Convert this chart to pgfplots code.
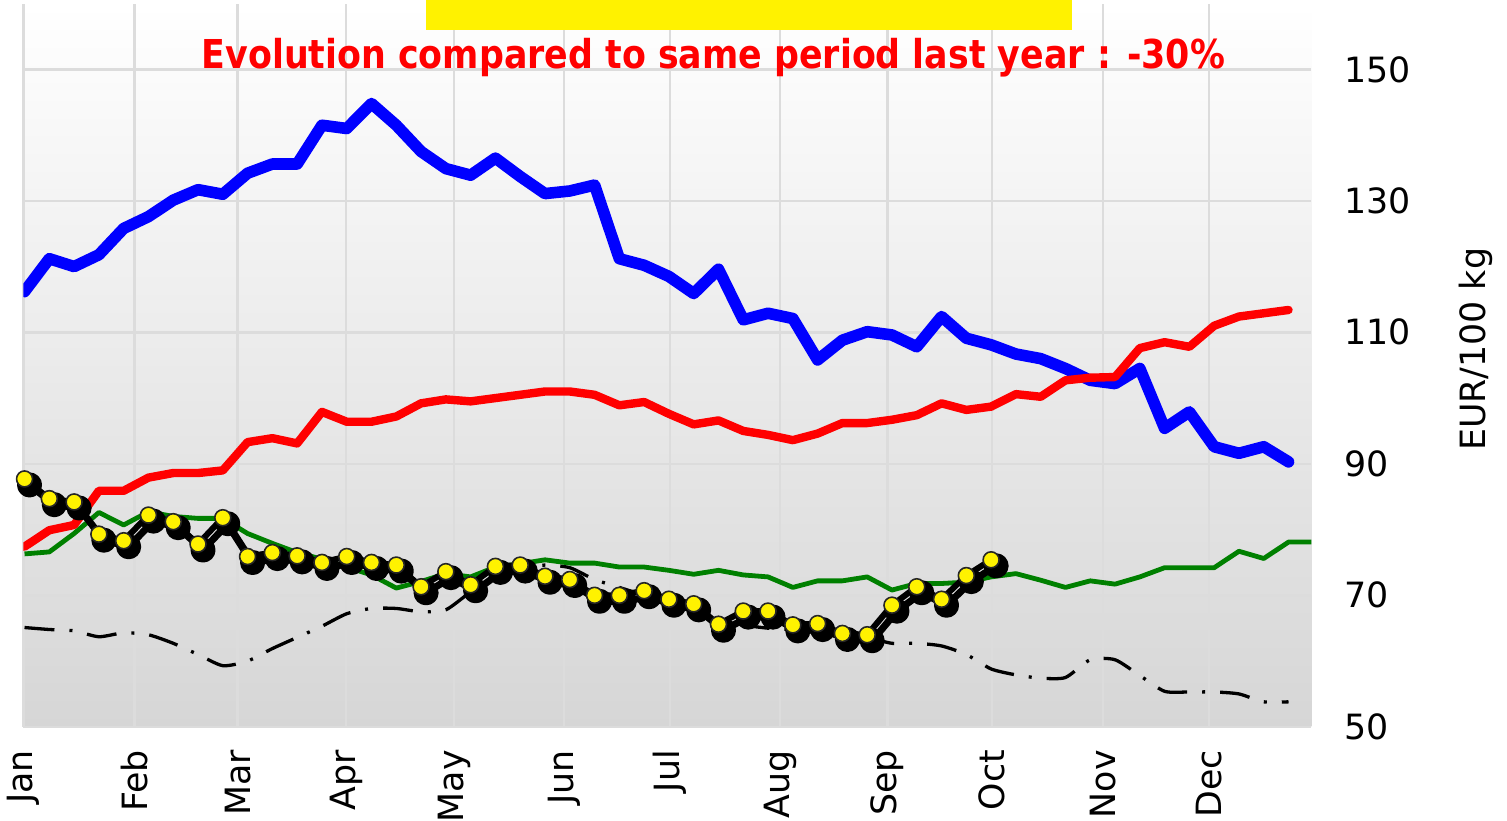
\documentclass[border=0pt]{standalone}
\usepackage{pgfplots}
\pgfplotsset{compat=1.18}
\usepackage{fontspec}
\setmainfont{DejaVu Sans}
\newfontfamily\titlefont{DejaVu Sans}[FakeStretch=0.875]
\definecolor{bgbot}{RGB}{214,214,214}
\definecolor{gridc}{RGB}{220,220,220}
\definecolor{dgreen}{RGB}{0,128,0}
\begin{document}
\begin{tikzpicture}
\begin{axis}[
  at={(0,0)}, anchor=south west,
  scale only axis, width=644pt, height=361.6pt,
  xmin=-0.05, xmax=51.92, ymin=50, ymax=160,
  axis line style={draw=none},
  axis background/.style={shade, top color=white, bottom color=bgbot},
  xtick={-0.05,4.43,8.60,12.97,17.33,21.77,26.05,30.49,34.81,39.04,43.52,47.80},
  xticklabels={Jan,Feb,Mar,Apr,May,Jun,Jul,Aug,Sep,Oct,Nov,Dec},
  ytick={50,70,90,110,130,150},
  grid=major, major grid style={gridc, line width=1.25pt},
  major tick length=0pt,
  yticklabel pos=right,
  tick label style={font=\fontsize{17.4}{20}\selectfont},
  /pgf/number format/assume math mode=true,
  xticklabel style={yshift=-11.5pt, rotate=90, anchor=east, inner sep=0pt},
  yticklabel style={anchor=west, inner sep=0pt, xshift=16.5pt},
  ylabel={EUR/100 kg},
  every axis y label/.style={at={(axis description cs:1.1351,0.522)}, rotate=90, anchor=base, font=\fontsize{17.4}{20}\selectfont},
]
% last year
\addplot[black, line width=1.65pt, dash pattern=on 15pt off 7.5pt on 1.5pt off 7.5pt, smooth, tension=0.4] coordinates {
(0,65.1)(1,64.8)(2,64.6)(3,63.7)(4,64.3)(5,64.0)(6,62.7)(7,61.0)(8,59.3)(9,60.0)
(10,61.9)(11,63.6)(12,65.3)(13,67.2)(14,68.0)(15,68.0)(16,67.5)(17,67.8)(18,70.5)(19,72.5)
(20,74.0)(21,74.6)(22,74.2)(23,72.4)(24,71.2)(25,70.0)(26,68.8)(27,67.8)(28,66.5)(29,65.5)
(30,65.0)(31,64.8)(32,64.6)(33,64.2)(34,63.6)(35,62.7)(36,62.7)(37,62.3)(38,61.0)(39,58.8)
(40,57.9)(41,57.4)(42,57.5)(43,60.2)(44,60.2)(45,57.8)(46,55.4)(47,55.3)(48,55.3)(49,55.0)
(50,53.8)(51,53.8)};
% green
\addplot[dgreen, line width=2.4pt, line join=round] coordinates {
(0,76.3)(1,76.6)(2,79.4)(3,82.6)(4,80.7)(5,82.7)(6,82.0)(7,81.7)(8,81.7)(9,79.4)
(10,77.9)(11,76.5)(12,75.5)(13,74.3)(14,73.1)(15,71.1)(16,72.1)(17,73.3)(18,72.8)(19,74.3)
(20,74.8)(21,75.4)(22,74.9)(23,74.9)(24,74.3)(25,74.3)(26,73.8)(27,73.2)(28,73.8)(29,73.1)
(30,72.8)(31,71.2)(32,72.2)(33,72.2)(34,72.8)(35,70.8)(36,71.8)(37,71.8)(38,72.0)(39,72.8)
(40,73.3)(41,72.3)(42,71.2)(43,72.2)(44,71.7)(45,72.8)(46,74.2)(47,74.2)(48,74.2)(49,76.7)
(50,75.6)(51,78.1)(52,78.1)};
% blue
\addplot[blue, line width=5.8pt, line join=round, line cap=round] coordinates {
(0,116.2)(1,121.2)(2,120.0)(3,121.8)(4,125.8)(5,127.6)(6,130.1)(7,131.7)(8,131.0)(9,134.2)
(10,135.6)(11,135.6)(12,141.5)(13,141.0)(14,144.8)(15,141.5)(16,137.5)(17,134.9)(18,133.9)(19,136.5)
(20,133.7)(21,131.1)(22,131.5)(23,132.4)(24,121.2)(25,120.2)(26,118.5)(27,115.9)(28,119.6)(29,111.9)
(30,112.9)(31,112.1)(32,105.8)(33,108.8)(34,110.1)(35,109.6)(36,107.8)(37,112.4)(38,109.1)(39,108.1)
(40,106.7)(41,106.0)(42,104.5)(43,102.7)(44,102.2)(45,104.5)(46,95.4)(47,97.9)(48,92.6)(49,91.6)
(50,92.6)(51,90.3)};
% red
\addplot[red, line width=4.2pt, line join=round, line cap=round] coordinates {
(0,77.4)(1,79.9)(2,80.7)(3,85.9)(4,85.9)(5,87.9)(6,88.6)(7,88.6)(8,89.0)(9,93.3)
(10,93.9)(11,93.1)(12,97.9)(13,96.4)(14,96.4)(15,97.2)(16,99.2)(17,99.8)(18,99.5)(19,100.0)
(20,100.5)(21,101.0)(22,101.0)(23,100.5)(24,98.9)(25,99.4)(26,97.6)(27,96.0)(28,96.6)(29,95.0)
(30,94.4)(31,93.6)(32,94.6)(33,96.2)(34,96.2)(35,96.7)(36,97.4)(37,99.2)(38,98.2)(39,98.7)
(40,100.6)(41,100.2)(42,102.7)(43,103.1)(44,103.2)(45,107.6)(46,108.5)(47,107.8)(48,111.0)(49,112.4)
(50,112.9)(51,113.4)};
% current year shadow
\addplot[black, line width=3.5pt, line join=round, mark=*, mark size=4.5pt, mark options={fill=black, draw=black}, xshift=2.5pt, yshift=-3pt] coordinates {
(0,87.7)(1,84.7)(2,84.2)(3,79.3)(4,78.3)(5,82.2)(6,81.2)(7,77.8)(8,81.8)(9,75.9)
(10,76.5)(11,76.0)(12,75.0)(13,75.9)(14,75.0)(15,74.6)(16,71.3)(17,73.6)(18,71.6)(19,74.4)
(20,74.6)(21,72.9)(22,72.4)(23,70.0)(24,70.0)(25,70.7)(26,69.4)(27,68.7)(28,65.6)(29,67.6)
(30,67.6)(31,65.5)(32,65.7)(33,64.2)(34,64.0)(35,68.5)(36,71.3)(37,69.4)(38,73.0)(39,75.4)};
% current year
\addplot[black, line width=3pt, line join=round, mark=*, mark size=4pt, mark options={fill=yellow, draw=black!85, line width=0.8pt}] coordinates {
(0,87.7)(1,84.7)(2,84.2)(3,79.3)(4,78.3)(5,82.2)(6,81.2)(7,77.8)(8,81.8)(9,75.9)
(10,76.5)(11,76.0)(12,75.0)(13,75.9)(14,75.0)(15,74.6)(16,71.3)(17,73.6)(18,71.6)(19,74.4)
(20,74.6)(21,72.9)(22,72.4)(23,70.0)(24,70.0)(25,70.7)(26,69.4)(27,68.7)(28,65.6)(29,67.6)
(30,67.6)(31,65.5)(32,65.7)(33,64.2)(34,64.0)(35,68.5)(36,71.3)(37,69.4)(38,73.0)(39,75.4)};
\end{axis}
\fill[yellow] (201.5pt,348.5pt) rectangle (524.5pt,363.4pt);
\node[anchor=base, text=red, inner sep=0pt, font=\titlefont\bfseries\fontsize{19.9}{24}\selectfont] at (345pt,329.35pt) {Evolution compared to same period last year : -30\%};
\pgfresetboundingbox
\path[use as bounding box] (-11.65pt,-46.65pt) rectangle (741.85pt,363.4pt);
\end{tikzpicture}
\end{document}
